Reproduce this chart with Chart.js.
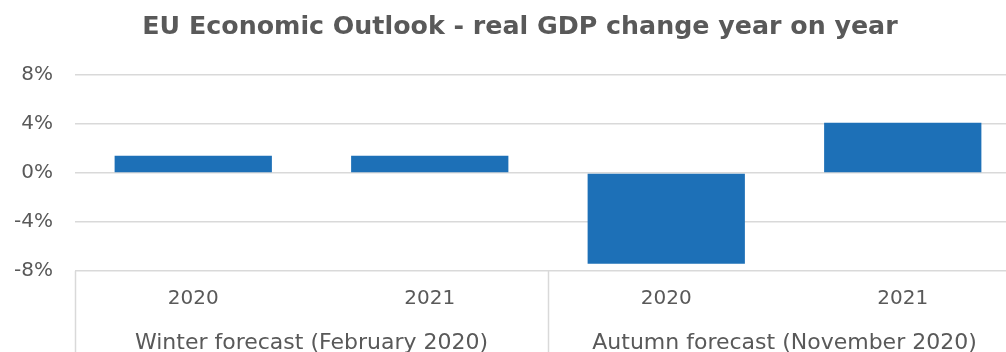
<!DOCTYPE html>
<html>
<head>
<meta charset="utf-8">
<script src="https://cdn.jsdelivr.net/npm/chart.js@4/dist/chart.umd.min.js"></script>
<style>
  html, body { margin: 0; padding: 0; background: #fff; overflow: hidden; }
  #wrap { width: 1006px; height: 352px; overflow: hidden; position: relative; }
  #box { width: 1040px; height: 362px; position: absolute; left: 0; top: 0; }
</style>
</head>
<body>
<div id="wrap"><div id="box"><canvas id="gdpChart"></canvas></div></div>
<script>
const years = ["2020", "2021", "2020", "2021"];
const forecasts = ["Winter forecast (February 2020)", "Autumn forecast (November 2020)"];
const gdpChange = [1.4, 1.4, -7.4, 4.1];
const yTicks = [-8, -4, 0, 4, 8];

const GREY = "#595959";
const GRID = "#d9d9d9";
const FONT = "'DejaVu Sans', Verdana, sans-serif";

// vertical separators between the forecast groups, below the plot
const groupLines = {
  id: "groupLines",
  afterDraw(chart) {
    const x = chart.scales.x;
    const ctx = chart.ctx;
    const perGroup = years.length / forecasts.length;
    ctx.save();
    ctx.strokeStyle = GRID;
    ctx.lineWidth = 1.5;
    for (let g = 0; g <= forecasts.length; g++) {
      const px = Math.round(x.getPixelForValue(g * perGroup - 0.5)) + 0.5;
      ctx.beginPath();
      ctx.moveTo(px, chart.chartArea.bottom);
      ctx.lineTo(px, chart.height);
      ctx.stroke();
    }
    ctx.restore();
  },
};

new Chart(document.getElementById("gdpChart"), {
  type: "bar",
  data: {
    labels: years,
    datasets: [
      {
        data: gdpChange,
        backgroundColor: "#1d70b7",
        barPercentage: 0.665,
        categoryPercentage: 1,
      },
    ],
  },
  options: {
    responsive: true,
    maintainAspectRatio: false,
    animation: false,
    layout: { padding: 0 },
    plugins: {
      legend: { display: false },
      tooltip: { enabled: false },
      title: {
        display: true,
        text: "EU Economic Outlook - real GDP change year on year",
        color: GREY,
        font: { family: FONT, size: 25.3, weight: "bold" },
        padding: { top: 12.5, bottom: 32 },
      },
    },
    scales: {
      y: {
        min: -8,
        max: 8,
        afterBuildTicks(scale) {
          scale.ticks = yTicks.map((v) => ({ value: v }));
        },
        afterFit(scale) {
          scale.width = 75;
        },
        border: { display: false },
        grid: { color: GRID, lineWidth: 1.5, drawTicks: false },
        ticks: {
          color: GREY,
          padding: 22,
          font: { family: FONT, size: 20 },
          callback: (v) => v + "%",
        },
      },
      // empty right-hand margin so the title stays centred on the full width
      yRight: {
        type: "linear",
        position: "right",
        afterFit(scale) {
          scale.width = 19;
        },
        border: { display: false },
        grid: { display: false },
        ticks: { display: false },
      },
      x: {
        position: "bottom",
        afterFit(scale) {
          scale.height = 40;
        },
        border: { display: false },
        grid: { display: false },
        ticks: {
          color: GREY,
          padding: 8,
          maxRotation: 0,
          font: { family: FONT, size: 20 },
        },
      },
      x2: {
        type: "category",
        position: "bottom",
        labels: forecasts,
        offset: true,
        afterFit(scale) {
          scale.height = 51;
        },
        border: { display: false },
        grid: { display: false },
        ticks: {
          color: GREY,
          padding: 11,
          maxRotation: 0,
          font: { family: FONT, size: 22 },
        },
      },
    },
  },
  plugins: [groupLines],
});
</script>
</body>
</html>
